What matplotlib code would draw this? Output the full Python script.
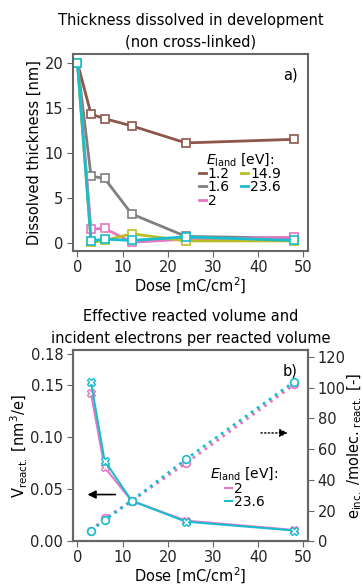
import numpy as np
import matplotlib
matplotlib.use("Agg")
import matplotlib.pyplot as plt
from matplotlib.lines import Line2D

# data
dose = [0, 3, 6, 12, 24, 48]
energies = ["1.2", "1.6", "2", "14.9", "23.6"]
colors = ["#8c564b", "#7f7f7f", "#e377c2", "#bcbd22", "#17becf"]
thick_12 = [20, 14.3, 13.8, 13.0, 11.1, 11.5]
thick_16 = [20, 7.4, 7.15, 3.2, 0.7, 0.5]
thick_2 = [20, 1.5, 1.6, 0.05, 0.4, 0.6]
thick_149 = [20, 0.05, 0.25, 1.0, 0.2, 0.2]
thick_236 = [20, 0.2, 0.4, 0.25, 0.65, 0.25]
thick = [thick_12, thick_16, thick_2, thick_149, thick_236]

dose_b = [3, 6, 12, 24, 48]
e_b = ["2", "23.6"]
col_b = ["#e377c2", "#17becf"]
vreact_2 = [0.142, 0.071, 0.039, 0.020, 0.011]
vreact_236 = [0.1525, 0.0775, 0.039, 0.019, 0.0105]
einc_2 = [7.0, 15.0, 26.4, 50.8, 102.0]
einc_236 = [7.0, 13.9, 26.4, 53.4, 103.8]
vreact = [vreact_2, vreact_236]
einc = [einc_2, einc_236]

fs = 10.5
lfs = 10
spine_c = "#666666"
plt.rcParams.update({
    "font.family": "DejaVu Sans",
    "font.size": fs,
    "axes.edgecolor": spine_c,
    "axes.linewidth": 1.5,
    "xtick.color": spine_c,
    "ytick.color": spine_c,
    "xtick.labelcolor": "#222222",
    "ytick.labelcolor": "#222222",
    "xtick.labelsize": fs,
    "ytick.labelsize": fs,
    "xtick.major.size": 4,
    "ytick.major.size": 4,
    "xtick.major.pad": 2.5,
    "ytick.major.pad": 3,
    "axes.labelsize": fs,
})

fig = plt.figure(figsize=(3.63, 5.86), dpi=100)
ax1 = fig.add_axes([0.201, 0.572, 0.647, 0.336])
ax2 = fig.add_axes([0.201, 0.076, 0.647, 0.327])

# a) dissolved thickness
for lab, c, y in zip(energies, colors, thick):
    ax1.plot(dose, y, "-s", color=c, lw=2, ms=5.5, mfc="white", mec=c,
             mew=1.2, label=lab)
ax1.set_xlim(-1, 51)
ax1.set_ylim(-0.9, 21)
ax1.set_xticks(np.arange(0, 51, 10))
ax1.set_yticks([0, 5, 10, 15, 20])
ax1.set_xlabel("Dose [mC/cm$^2$]", labelpad=1)
ax1.set_ylabel("Dissolved thickness [nm]", labelpad=2)
ax1.set_title("Thickness dissolved in development\n(non cross-linked)",
              fontsize=fs, linespacing=1.6, pad=5)
ax1.text(0.955, 0.93, "a)", transform=ax1.transAxes, ha="right", va="top",
         fontsize=fs)
h1 = [Line2D([], [], color=c, lw=2) for c in colors]
ax1.legend(h1, energies, title=r"$E_{\rm land}$ [eV]:", ncol=2,
           frameon=False, handlelength=0.5, handletextpad=0.15,
           columnspacing=0.8, labelspacing=-0.05, fontsize=lfs,
           title_fontsize=lfs, loc="upper left",
           bbox_to_anchor=(0.5, 0.55), borderpad=0.1)

# b) reacted volume and electrons per reacted volume
ax3 = ax2.twinx()
for lab, c, v, e in zip(e_b, col_b, vreact, einc):
    ax2.plot(dose_b, v, "-X", color=c, lw=1.5, ms=5.5, mfc="white", mec=c,
             mew=1.0, label=lab)
    ax3.plot(dose_b, e, ":o", color=c, lw=2, ms=5.5, mfc="white", mec=c,
             mew=1.2)
ax2.set_xlim(-1, 51)
ax2.set_ylim(0, 0.1838)
ax2.set_yticks([0, 0.05, 0.10, 0.15, 0.18])
ax2.set_yticklabels(["0.00", "0.05", "0.10", "0.15", "0.18"])
ax3.set_ylim(0, 124.5)
ax3.set_yticks(np.arange(0, 121, 20))
ax2.set_xticks(np.arange(0, 51, 10))
ax2.set_xlabel("Dose [mC/cm$^2$]", labelpad=0)
ax2.set_ylabel(r"V$_{\rm react.}$ [nm$^3$/e]", labelpad=0)
ax3.set_ylabel(r"e$_{\rm inc.}$ /molec.$_{\rm\ react.}$ [-]", labelpad=0)
ax2.set_title("Effective reacted volume and\nincident electrons per reacted volume",
              fontsize=fs, linespacing=1.6, pad=5)
ax2.text(0.955, 0.93, "b)", transform=ax2.transAxes, ha="right", va="top",
         fontsize=fs)
h2 = [Line2D([], [], color=c, lw=1.5) for c in col_b]
ax2.legend(h2, e_b, title=r"$E_{\rm land}$ [eV]:", frameon=False,
           handlelength=0.5, handletextpad=0.15, labelspacing=-0.05,
           fontsize=lfs, title_fontsize=lfs, loc="upper left",
           bbox_to_anchor=(0.55, 0.44), borderpad=0.1)

ax2.annotate("", xy=(1.6, 0.045), xytext=(9.0, 0.045),
             arrowprops=dict(arrowstyle="-|>", color="black", lw=1.2,
                             mutation_scale=12))
ax3.annotate("", xy=(47.2, 70.5), xytext=(40.0, 70.5),
             arrowprops=dict(arrowstyle="-|>", color="black", lw=1.0,
                             ls=":", mutation_scale=12))

fig.savefig("out.png", dpi=100)
